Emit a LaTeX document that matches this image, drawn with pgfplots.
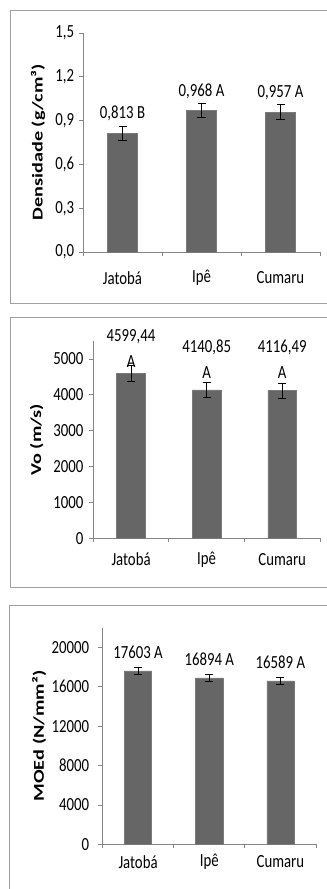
\documentclass[border=0pt]{standalone}
\usepackage{pgfplots}
\pgfplotsset{compat=1.18}
\usepackage{pgfplotstable}
\usepackage{fontspec}
\setmainfont{Carlito}[FakeStretch=0.8]
\newfontfamily\ylabfont{Carlito}[FakeStretch=1.35]
\definecolor{barfill}{HTML}{666666}
\definecolor{baredge}{HTML}{7A7A7A}
\definecolor{axgray}{HTML}{868686}
\definecolor{boxgray}{HTML}{A0A0A0}
\newcommand{\fs}{\fontsize{18.5bp}{22bp}\selectfont}

\pgfplotstableread[col sep=semicolon]{
x;y;e;lab;sh
0;0.813;0.05;0,813 B;19.5
1;0.968;0.05;0,968 A;19.5
2;0.957;0.05;0,957 A;19.5
}\tabDens

\pgfplotstableread[col sep=semicolon]{
x;y;e;lab;sh
0;4599.44;220;4599,44;25
1;4140.85;215;4140,85;31
2;4116.49;215;4116,49;31
}\tabVo

\pgfplotstableread[col sep=semicolon]{
x;y;e;lab;sh
0;17603;350;17603 A;19
1;16894;370;16894 A;19
2;16589;355;16589 A;19
}\tabMoe

\pgfplotsset{
  /pgf/number format/assume math mode=true,
  mypanel/.style={
    scale only axis, clip=false,
    axis lines=left,
    axis line style={-, draw=axgray, line width=0.8bp},
    tick align=outside, major tick length=4bp,
    tick style={draw=axgray, line width=0.8bp},
    xmin=-0.5, xmax=2.5, ymin=0,
    scaled y ticks=false,
    xtick={-0.5,0.5,1.5,2.5}, xticklabels={},
    extra x ticks={0,1,2},
    extra x tick labels={Jatobá,Ipê,Cumaru},
    extra x tick style={major tick length=0pt, tick style={draw=none},
      xticklabel style={anchor=center, yshift=-#1}},
    tick label style={font=\fs, text=black},
    ylabel style={font=\ylabfont\bfseries\fontsize{15bp}{18bp}\selectfont, anchor=center, text=black},
    nodes near coords style={font=\fs, text=black},
  },
  mybar/.style={
    ybar, bar width=0.38, fill=barfill, draw=baredge, line width=0.5bp,
    nodes near coords, point meta=explicit symbolic,
    visualization depends on={\thisrow{sh}\as\mysh},
    every node near coord/.append style={anchor=center, yshift=\mysh bp},
    error bars/.cd, y dir=both, y explicit,
      error bar style={black, line width=1bp},
      error mark options={black, rotate=90, mark size=4bp, line width=1bp},
    /pgfplots/.cd,
  },
}

\begin{document}
\begin{tikzpicture}
\useasboundingbox (0,0) rectangle (327bp,-889bp);
\draw[boxgray, line width=1bp] (10bp,-10bp) rectangle (345bp,-303bp);
\draw[boxgray, line width=1bp] (10bp,-317bp) rectangle (345bp,-587bp);
\draw[boxgray, line width=1bp] (9bp,-605bp) rectangle (345bp,-905bp);

% Panel 1: Densidade
\begin{axis}[mypanel=26bp,
  at={(83bp,-252bp)}, anchor=south west,
  width=237bp, height=219bp,
  ymax=1.5, ytick={0,0.3,0.6,0.9,1.2,1.5},
  yticklabel style={xshift=-1.4bp, /pgf/number format/fixed, /pgf/number format/fixed zerofill,
    /pgf/number format/precision=1, /pgf/number format/use comma},
  ylabel={Densidade (g/cm³)},
  ylabel style={at={(axis description cs:-0.19,0.5)}},
]
\addplot[mybar] table[x=x, y=y, y error=e, meta=lab] {\tabDens};
\end{axis}

% Panel 2: Vo
\begin{axis}[mypanel=21bp,
  at={(93.3bp,-538.3bp)}, anchor=south west,
  width=226.7bp, height=197.2bp,
  ymax=5500, ytick={0,1000,2000,3000,4000,5000},
  yticklabel style={xshift=-2.4bp, /pgf/number format/1000 sep={}},
  ylabel={Vo (m/s)},
  ylabel style={at={(axis description cs:-0.25,0.5)}},
]
\addplot[mybar, nodes near coords={\pgfplotspointmeta\\A},
  nodes near coords style={align=center, font=\fontsize{18.5bp}{26bp}\selectfont}]
  table[x=x, y=y, y error=e, meta=lab] {\tabVo};
\end{axis}

% Panel 3: MOEd
\begin{axis}[mypanel=17.4bp,
  at={(102.5bp,-844.3bp)}, anchor=south west,
  width=213.5bp, height=216.7bp,
  ymax=22000, ytick={0,4000,8000,12000,16000,20000},
  yticklabel style={xshift=-5.8bp, /pgf/number format/1000 sep={}},
  ylabel={MOEd (N/mm²)},
  ylabel style={at={(axis description cs:-0.297,0.5)}},
]
\addplot[mybar] table[x=x, y=y, y error=e, meta=lab] {\tabMoe};
\end{axis}
\end{tikzpicture}
\end{document}
